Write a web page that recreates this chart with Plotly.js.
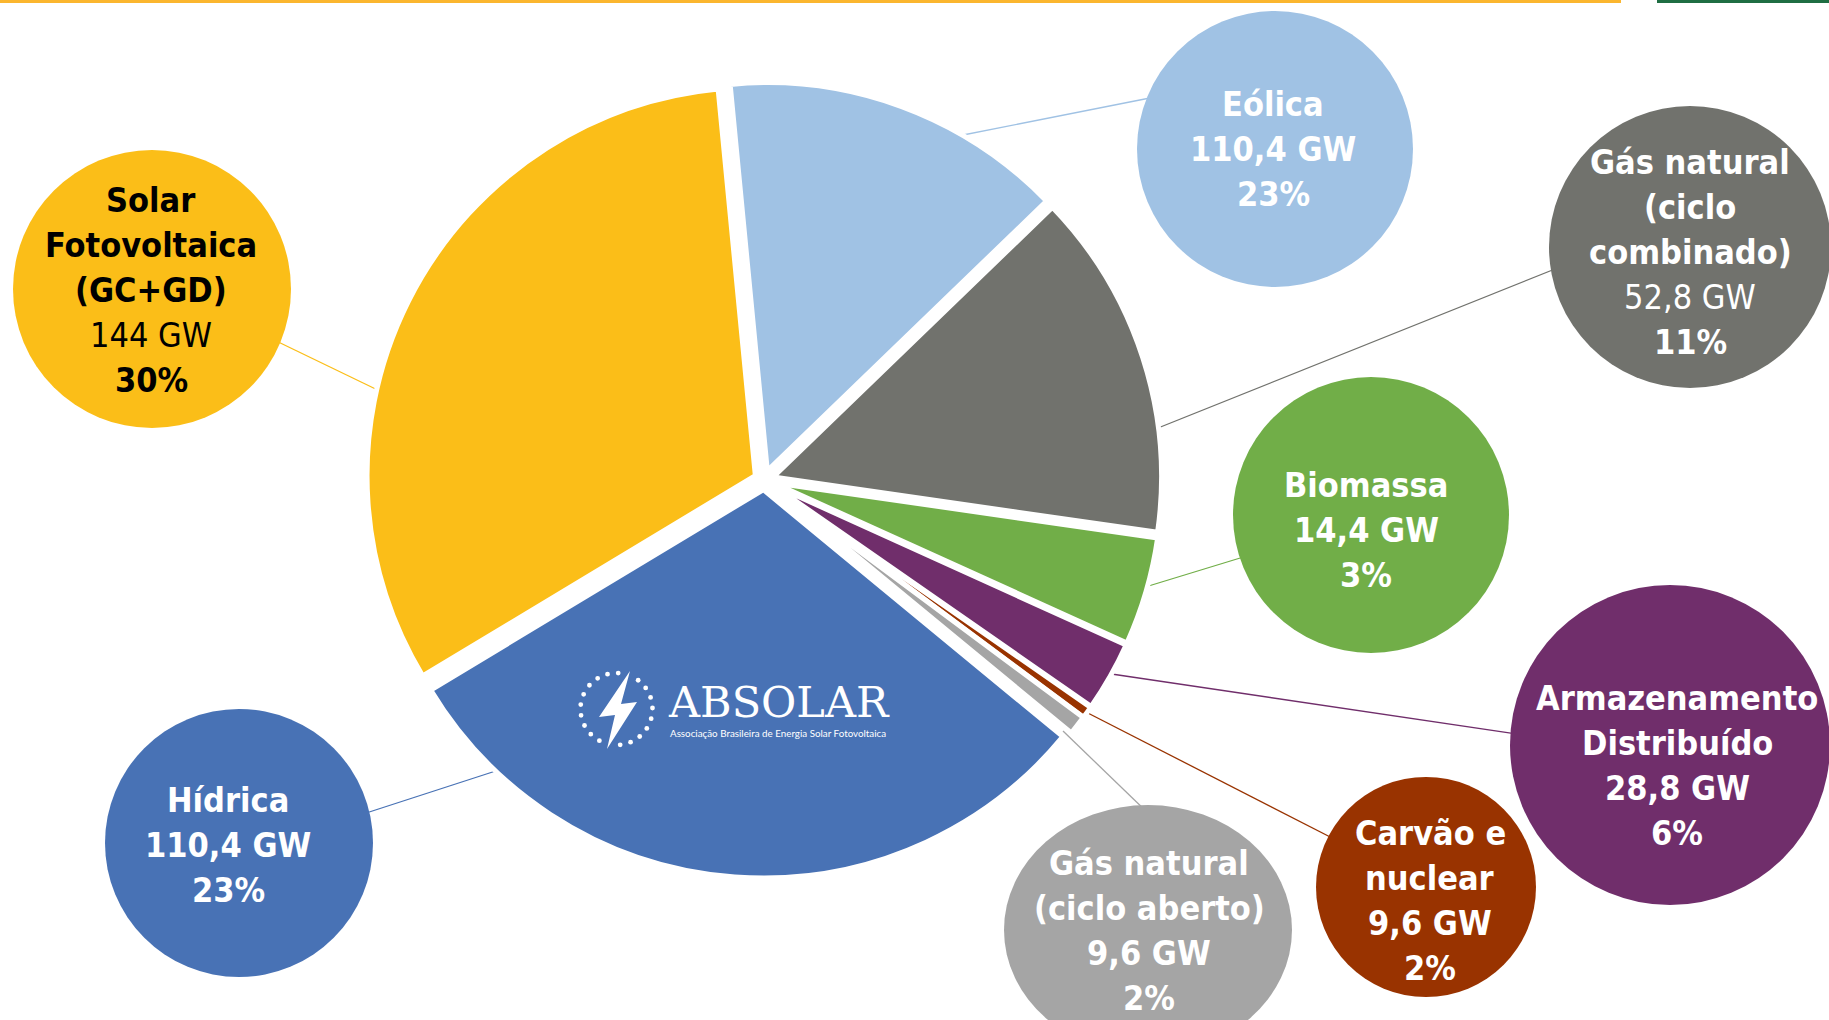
<!DOCTYPE html>
<html><head><meta charset="utf-8">
<script src="https://cdn.plot.ly/plotly-3.0.1.min.js"></script>
<style>html,body{margin:0;padding:0;background:#fff;overflow:hidden;} #chart{width:1829px;height:1020px;}</style>
</head><body><div id="chart"></div>
<script>
// ---------------- data ----------------
const categories = ['Eólica', 'Gás natural (ciclo combinado)', 'Biomassa', 'Armazenamento Distribuído',
                    'Carvão e nuclear', 'Gás natural (ciclo aberto)', 'Hídrica', 'Solar Fotovoltaica (GC+GD)'];
// slice sizes as they are drawn in the pie (% of the circle)
const pieShare = [14.3, 14.5, 4.5, 2.9, 0.5, 0.8, 30.4, 32.1];
// values written in the label bubbles
const capacityGW = [110.4, 52.8, 14.4, 28.8, 9.6, 9.6, 110.4, 144];
const sharePct = [23, 11, 3, 6, 2, 2, 23, 30];
const labelLines = [['Eólica'], ['Gás natural', '(ciclo', 'combinado)'], ['Biomassa'],
                    ['Armazenamento', 'Distribuído'], ['Carvão e', 'nuclear'],
                    ['Gás natural', '(ciclo aberto)'], ['Hídrica'], ['Solar', 'Fotovoltaica', '(GC+GD)']];

// ---------------- styles / layout ----------------
const colors = ['#A0C2E4', '#71726D', '#71AE48', '#702E6B', '#993300', '#A5A5A5', '#4872B5', '#FBBE18'];
const W = 1829, H = 1020;
const FONT = 'DejaVu Sans Condensed, DejaVu Sans, sans-serif';
// bubble geometry in pixels: circle centre, radii, text centre, text colour, GW line bold?
const bubbles = [
  {cx: 1275, cy: 149, rx: 138, ry: 138, tx: 1273, ty: 149, col: '#FFFFFF', gwBold: true},
  {cx: 1690, cy: 247, rx: 141, ry: 141, tx: 1690, ty: 252, col: '#FFFFFF', gwBold: false},
  {cx: 1371, cy: 515, rx: 138, ry: 138, tx: 1366, ty: 530, col: '#FFFFFF', gwBold: true},
  {cx: 1670, cy: 745, rx: 160, ry: 160, tx: 1677, ty: 765, col: '#FFFFFF', gwBold: true},
  {cx: 1426, cy: 887, rx: 110, ry: 110, tx: 1430, ty: 900, col: '#FFFFFF', gwBold: true},
  {cx: 1148, cy: 930, rx: 144, ry: 125, tx: 1149, ty: 930, col: '#FFFFFF', gwBold: true},
  {cx: 239, cy: 843, rx: 134, ry: 134, tx: 228, ty: 845, col: '#FFFFFF', gwBold: true},
  {cx: 152, cy: 289, rx: 139, ry: 139, tx: 151, ty: 290, col: '#000000', gwBold: false}
];
// leader lines: [pie-side x, y, bubble-side x, y] in pixels
const leaders = [
  [958, 136, 1160, 96], [1148, 432, 1560, 267], [1142, 588, 1250, 555], [1098, 672, 1530, 736],
  [1080, 709, 1340, 842], [1063, 731, 1150, 815], [508, 767, 360, 815], [388, 395, 270, 338]
];
const LINE_GAP = 45, TEXT_SIZE = 34;

const px = x => x / W, py = y => 1 - y / H;
const fmtGW = v => (Number.isInteger(v) ? String(v) : v.toFixed(1).replace('.', ',')) + ' GW';

const shapes = [];
const annotations = [];

// top decorative rules
shapes.push({type: 'rect', xref: 'paper', yref: 'paper', x0: 0, x1: px(1621), y0: py(3), y1: 1,
             fillcolor: '#FBB62F', line: {width: 0}, layer: 'above'});
shapes.push({type: 'rect', xref: 'paper', yref: 'paper', x0: px(1657), x1: 1, y0: py(3), y1: 1,
             fillcolor: '#1F6E43', line: {width: 0}, layer: 'above'});

// leader lines (under the pie)
leaders.forEach((l, i) => {
  shapes.push({type: 'line', xref: 'paper', yref: 'paper', x0: px(l[0]), y0: py(l[1]), x1: px(l[2]), y1: py(l[3]),
               line: {color: colors[i], width: 1.3}, layer: 'below'});
});

// bubbles + text
bubbles.forEach((b, i) => {
  shapes.push({type: 'circle', xref: 'paper', yref: 'paper',
               x0: px(b.cx - b.rx), x1: px(b.cx + b.rx), y0: py(b.cy + b.ry), y1: py(b.cy - b.ry),
               fillcolor: colors[i], line: {width: 0}, layer: 'above'});
  const lines = labelLines[i].map(t => ({t: t, bold: true}));
  lines.push({t: fmtGW(capacityGW[i]), bold: b.gwBold});
  lines.push({t: sharePct[i] + '%', bold: true});
  const n = lines.length;
  lines.forEach((ln, k) => {
    annotations.push({xref: 'paper', yref: 'paper', x: px(b.tx), y: py(b.ty + (k - (n - 1) / 2) * LINE_GAP),
                      xanchor: 'center', yanchor: 'middle', showarrow: false, text: ln.t,
                      font: {family: FONT, size: TEXT_SIZE, color: b.col, weight: ln.bold ? 'bold' : 'normal'}});
  });
});

// ABSOLAR logo (decoration on the Hídrica slice)
const logo = {cx: 616.5, cy: 709, r: 36};
for (let k = 0; k < 21; k++) {
  if (k === 1 || k === 11) continue;
  const a = (2.7 + k * 360 / 21) * Math.PI / 180;
  const x = logo.cx + logo.r * Math.sin(a), y = logo.cy - logo.r * Math.cos(a);
  shapes.push({type: 'circle', xref: 'paper', yref: 'paper', x0: px(x - 2.4), x1: px(x + 2.4),
               y0: py(y + 2.4), y1: py(y - 2.4), fillcolor: '#FFFFFF', line: {width: 0}, layer: 'above'});
}
const bolt = [[630, 671], [599, 717], [615, 715], [607, 749], [637, 702], [621, 704]];
shapes.push({type: 'path', xref: 'paper', yref: 'paper', layer: 'above',
             path: 'M' + bolt.map(p => px(p[0]) + ',' + py(p[1])).join('L') + 'Z',
             fillcolor: '#FFFFFF', line: {width: 0}});
annotations.push({xref: 'paper', yref: 'paper', x: px(666), y: py(702), xanchor: 'left', yanchor: 'middle',
                  showarrow: false, text: 'ABSOLAR', font: {family: 'DejaVu Serif, serif', size: 43, color: '#FFFFFF'}});
annotations.push({xref: 'paper', yref: 'paper', x: px(668), y: py(733), xanchor: 'left', yanchor: 'middle',
                  showarrow: false, text: 'Associação Brasileira de Energia Solar Fotovoltaica',
                  font: {family: 'Lato, sans-serif', size: 9.8, color: '#FFFFFF'}});

// pie geometry
const pieC = {x: 764, y: 480}, pieHalf = 398;
const trace = {
  type: 'pie', labels: categories, values: pieShare, sort: false, direction: 'clockwise', rotation: -5.5,
  pull: pieShare.map(() => 0.025), textinfo: 'none', hoverinfo: 'skip', showlegend: false,
  marker: {colors: colors, line: {color: '#FFFFFF', width: 5}},
  domain: {x: [px(pieC.x - pieHalf), px(pieC.x + pieHalf)], y: [py(pieC.y + pieHalf), py(pieC.y - pieHalf)]}
};

Plotly.newPlot('chart', [trace], {
  width: W, height: H, margin: {l: 0, r: 0, t: 0, b: 0},
  paper_bgcolor: '#FFFFFF', plot_bgcolor: '#FFFFFF', showlegend: false,
  shapes: shapes, annotations: annotations
}, {displayModeBar: false, staticPlot: true});
</script></body></html>
